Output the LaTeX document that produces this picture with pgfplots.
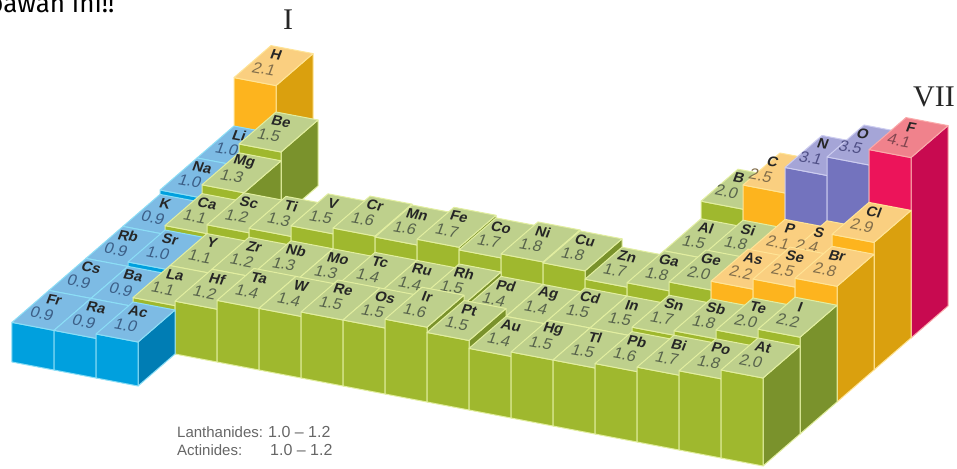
\documentclass[border=0pt]{standalone}
\usepackage{fontspec}
\setmainfont{Liberation Sans}
\newfontfamily\timesfont{Liberation Serif}
\newfontfamily\handfont{Fira Sans}
\usepackage{pgfplots}
\pgfplotsset{compat=1.18}

% colours: top, front, right side, edge, value text
\definecolor{gtop}{RGB}{190,208,140}\definecolor{gfront}{RGB}{159,184,46}\definecolor{gside}{RGB}{122,146,44}\definecolor{gedge}{RGB}{226,238,160}\definecolor{gval}{RGB}{88,100,76}
\definecolor{btop}{RGB}{125,187,228}\definecolor{bfront}{RGB}{0,160,222}\definecolor{bside}{RGB}{0,125,180}\definecolor{bedge}{RGB}{140,222,246}\definecolor{bval}{RGB}{60,95,135}
\definecolor{ytop}{RGB}{250,207,128}\definecolor{yfront}{RGB}{253,180,30}\definecolor{yside}{RGB}{218,160,14}\definecolor{yedge}{RGB}{255,228,150}\definecolor{yval}{RGB}{130,110,75}
\definecolor{ptop}{RGB}{165,165,215}\definecolor{pfront}{RGB}{115,115,190}\definecolor{pside}{RGB}{90,90,165}\definecolor{pedge}{RGB}{205,205,240}\definecolor{pval}{RGB}{80,80,135}
\definecolor{rtop}{RGB}{240,130,140}\definecolor{rfront}{RGB}{236,20,90}\definecolor{rside}{RGB}{200,10,80}\definecolor{redge}{RGB}{250,170,170}\definecolor{rval}{RGB}{130,70,80}

\tikzset{
  face/.style={line width=1pt,line join=round},
  sym/.style={cm={1,-0.18,0.35,0.93,(0,0)},inner sep=0pt,text=black!85,font=\fontsize{14.5}{15}\selectfont\bfseries},
  val/.style={cm={1,-0.18,0.35,0.93,(0,0)},inner sep=0pt,font=\fontsize{16}{16}\selectfont},
}

% \cellx{column}{row}{value}{colour family}{symbol}{drawn height}{label dx}{label dy}
\newcommand{\cellx}[8]{%
  \pgfmathsetmacro\ca{#1-1}\pgfmathsetmacro\cb{#1}%
  \pgfmathsetmacro\ra{7-#2}\pgfmathsetmacro\rb{8-#2}%
  \pgfmathsetmacro\sx{#1-0.68+#7}\pgfmathsetmacro\sy{7-#2+0.78+#8}%
  \pgfmathsetmacro\vx{#1-0.61+#7}\pgfmathsetmacro\vy{7-#2+0.37+#8}%
  \edef\temp{%
    \noexpand\addplot3[face,fill=#4side,draw=#4edge] coordinates {(\cb,\ra,0) (\cb,\rb,0) (\cb,\rb,#6) (\cb,\ra,#6) (\cb,\ra,0)};
    \noexpand\addplot3[face,fill=#4front,draw=#4edge] coordinates {(\ca,\ra,0) (\cb,\ra,0) (\cb,\ra,#6) (\ca,\ra,#6) (\ca,\ra,0)};
    \noexpand\addplot3[face,fill=#4top,draw=#4edge] coordinates {(\ca,\ra,#6) (\cb,\ra,#6) (\cb,\rb,#6) (\ca,\rb,#6) (\ca,\ra,#6)};
    \noexpand\node[sym] at (axis cs:\sx,\sy,#6) {#5};
    \noexpand\node[val,text=#4val] at (axis cs:\vx,\vy,#6) {#3};
  }\temp
}
% \cell{column}{row}{value}{colour family}{symbol}
\newcommand{\cell}[5]{\cellx{#1}{#2}{#3}{#4}{#5}{#3}{0}{0}}

\begin{document}
\begin{tikzpicture}[x=1pt,y=1pt]
\begin{axis}[
  hide axis,clip=false,
  x={(42pt,-8pt)},y={(37pt,32pt)},z={(0pt,44pt)},
  xmin=0,xmax=17,ymin=0,ymax=7,zmin=0,zmax=4.5,
]
\coordinate (O) at (axis cs:0,0,0);
% row 1
\cell{1}{1}{2.1}{y}{H}
% row 2
\cell{1}{2}{1.0}{b}{Li}
\cell{2}{2}{1.5}{g}{Be}
\cellx{13}{2}{2.0}{g}{B}{2.2}{-0.1}{0}
\cellx{14}{2}{2.5}{y}{C}{2.75}{-0.25}{-0.05}
\cellx{15}{2}{3.1}{p}{N}{3.33}{-0.1}{0}
\cellx{16}{2}{3.5}{p}{O}{3.75}{-0.15}{0}
\cell{17}{2}{4.1}{r}{F}
% row 3
\cell{1}{3}{1.0}{b}{Na}
\cell{2}{3}{1.3}{g}{Mg}
\cellx{13}{3}{1.5}{g}{Al}{1.8}{0}{0}
\cellx{14}{3}{1.8}{g}{Si}{1.95}{0}{0}
\cellx{15}{3}{2.1}{y}{P}{2.15}{0}{0}
\cellx{16}{3}{2.4}{y}{S}{2.3}{-0.21}{-0.115}
\cell{17}{3}{2.9}{y}{Cl}
% row 4
\cell{1}{4}{0.9}{b}{K}
\cell{2}{4}{1.1}{g}{Ca}
\cellx{3}{4}{1.2}{g}{Sc}{1.3}{0}{0}
\cellx{4}{4}{1.3}{g}{Ti}{1.4}{0}{0}
\cellx{5}{4}{1.5}{g}{V}{1.64}{0}{0}
\cellx{6}{4}{1.6}{g}{Cr}{1.77}{0}{0}
\cellx{7}{4}{1.6}{g}{Mn}{1.75}{0}{0}
\cellx{8}{4}{1.7}{g}{Fe}{1.88}{0}{0}
\cellx{9}{4}{1.7}{g}{Co}{1.82}{0}{0}
\cellx{10}{4}{1.8}{g}{Ni}{1.91}{0}{0}
\cellx{11}{4}{1.8}{g}{Cu}{1.89}{0}{0}
\cell{12}{4}{1.7}{g}{Zn}
\cell{13}{4}{1.8}{g}{Ga}
\cell{14}{4}{2.0}{g}{Ge}
\cell{15}{4}{2.2}{y}{As}
\cellx{16}{4}{2.5}{y}{Se}{2.43}{0}{0}
\cellx{17}{4}{2.8}{y}{Br}{2.63}{0}{0}
% row 5
\cell{1}{5}{0.9}{b}{Rb}
\cell{2}{5}{1.0}{b}{Sr}
\cell{3}{5}{1.1}{g}{Y}
\cell{4}{5}{1.2}{g}{Zr}
\cell{5}{5}{1.3}{g}{Nb}
\cell{6}{5}{1.3}{g}{Mo}
\cell{7}{5}{1.4}{g}{Tc}
\cell{8}{5}{1.4}{g}{Ru}
\cell{9}{5}{1.5}{g}{Rh}
\cell{10}{5}{1.4}{g}{Pd}
\cell{11}{5}{1.4}{g}{Ag}
\cell{12}{5}{1.5}{g}{Cd}
\cell{13}{5}{1.5}{g}{In}
\cell{14}{5}{1.7}{g}{Sn}
\cell{15}{5}{1.8}{g}{Sb}
\cell{16}{5}{2.0}{g}{Te}
\cell{17}{5}{2.2}{g}{I}
% row 6
\cell{1}{6}{0.9}{b}{Cs}
\cell{2}{6}{0.9}{b}{Ba}
\cell{3}{6}{1.1}{g}{La}
\cell{4}{6}{1.2}{g}{Hf}
\cell{5}{6}{1.4}{g}{Ta}
\cell{6}{6}{1.4}{g}{W}
\cell{7}{6}{1.5}{g}{Re}
\cell{8}{6}{1.5}{g}{Os}
\cellx{9}{6}{1.6}{g}{Ir}{1.7}{0}{0}
\cellx{10}{6}{1.5}{g}{Pt}{1.58}{0}{0}
\cell{11}{6}{1.4}{g}{Au}
\cell{12}{6}{1.5}{g}{Hg}
\cell{13}{6}{1.5}{g}{Tl}
\cell{14}{6}{1.6}{g}{Pb}
\cell{15}{6}{1.7}{g}{Bi}
\cell{16}{6}{1.8}{g}{Po}
\cell{17}{6}{2.0}{g}{At}
% row 7
\cell{1}{7}{0.9}{b}{Fr}
\cell{2}{7}{0.9}{b}{Ra}
\cell{3}{7}{1.0}{b}{Ac}
\end{axis}
\pgfresetboundingbox
\begin{scope}[shift={(O)}]
\path[use as bounding box] (-12,362) rectangle (945,-106);
\node[font=\timesfont\fontsize{30}{30}\selectfont,text=black!85] at (276,342) {I};
\node[font=\timesfont\fontsize{30}{30}\selectfont,text=black!85] at (922,265) {VII};
\node[anchor=base west,inner sep=0pt,font=\handfont\fontsize{26}{26}\selectfont] at (-24,349) {bawah ini!!};
\node[anchor=west,inner sep=0pt,text=black!60,font=\fontsize{15}{15}\selectfont] at (165,-70) {Lanthanides:};
\node[anchor=west,inner sep=0pt,text=black!60,font=\fontsize{15}{15}\selectfont] at (165,-88) {Actinides:};
\node[anchor=west,inner sep=0pt,text=black!60,font=\fontsize{16}{16}\selectfont] at (256,-70) {1.0 -- 1.2};
\node[anchor=west,inner sep=0pt,text=black!60,font=\fontsize{16}{16}\selectfont] at (258,-88) {1.0 -- 1.2};
\end{scope}
\end{tikzpicture}
\end{document}
